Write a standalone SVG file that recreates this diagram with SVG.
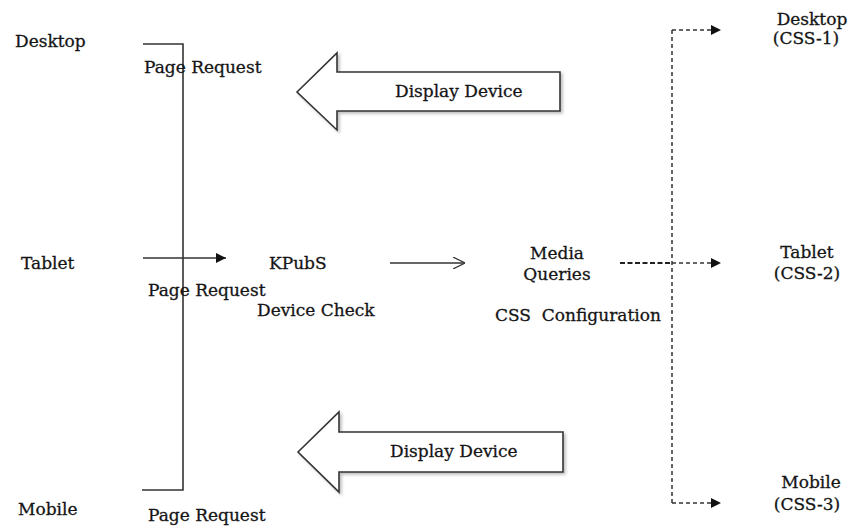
<svg xmlns="http://www.w3.org/2000/svg" width="848" height="526" viewBox="0 0 848 526">
  <style>
    .lbl { font-family: "DejaVu Serif", "Liberation Serif", serif; font-size: 17px; fill: #151515; stroke: #151515; stroke-width: 0.3; }
    .mid { text-anchor: middle; }
    .ln { fill: none; stroke: #333; stroke-width: 1.6; }
    .dash { fill: none; stroke: #333; stroke-width: 1.5; stroke-dasharray: 4 3; }
    .dashb { fill: none; stroke: #222; stroke-width: 2.2; stroke-dasharray: 5 2.5; }
    .big { fill: #fff; stroke: #333; stroke-width: 1.6; stroke-linejoin: miter; filter: url(#sh); }
  </style>
  <defs>
    <marker id="solid" viewBox="0 0 10 10" refX="10" refY="5" markerWidth="11" markerHeight="10" markerUnits="userSpaceOnUse" orient="auto">
      <path d="M0,0 L10,5 L0,10 z" fill="#111"/>
    </marker>
    <marker id="solidL" viewBox="0 0 10 10" refX="10" refY="5" markerWidth="13" markerHeight="10" markerUnits="userSpaceOnUse" orient="auto">
      <path d="M0,0 L10,5 L0,10 z" fill="#111"/>
    </marker>
    <marker id="open" viewBox="0 0 10 10" refX="10" refY="5" markerWidth="12" markerHeight="12" markerUnits="userSpaceOnUse" orient="auto">
      <path d="M0,0 L10,5 L0,10" fill="none" stroke="#333" stroke-width="1"/>
    </marker>
    <filter id="sh" x="-10%" y="-10%" width="130%" height="130%">
      <feDropShadow dx="2" dy="2" stdDeviation="1.5" flood-color="#000" flood-opacity="0.25"/>
    </filter>
  </defs>
  <rect width="848" height="526" fill="#fff"/>

  <!-- connectors -->
  <g id="connectors">
    <!-- request bracket -->
    <path class="ln" d="M143,44 H183 V490 H142"/>
    <!-- tablet request -->
    <line class="ln" x1="143" y1="258" x2="226" y2="258" marker-end="url(#solidL)"/>
    <!-- KPubS to media queries -->
    <line class="ln" x1="390" y1="263" x2="465" y2="263" marker-end="url(#open)" stroke-width="1.2"/>
    <!-- media queries out -->
    <line class="dashb" x1="620" y1="263" x2="671" y2="263"/>
    <line class="dash" x1="672" y1="263" x2="721" y2="263" marker-end="url(#solid)"/>
    <!-- distribution bus -->
    <line class="dash" x1="672" y1="30" x2="672" y2="503"/>
    <line class="dash" x1="672" y1="30" x2="721" y2="30" marker-end="url(#solid)"/>
    <line class="dash" x1="672" y1="503" x2="721" y2="503" marker-end="url(#solid)"/>
  </g>

  <!-- display device block arrows -->
  <g id="display-top">
    <path class="big" d="M297,92 L337,53 V72 H560 V111 H337 V130 Z"/>
    <text class="lbl" x="395" y="97">Display Device</text>
  </g>
  <g id="display-bottom">
    <path class="big" d="M298,452 L339,412 V432 H563 V472 H339 V492 Z"/>
    <text class="lbl" x="390" y="457">Display Device</text>
  </g>

  <!-- clients -->
  <g id="desktop">
    <text class="lbl" x="15" y="47">Desktop</text>
    <text class="lbl" x="144" y="73">Page Request</text>
  </g>
  <g id="tablet">
    <text class="lbl" x="21" y="269">Tablet</text>
    <text class="lbl" x="148" y="296">Page Request</text>
  </g>
  <g id="mobile">
    <text class="lbl" x="18" y="515">Mobile</text>
    <text class="lbl" x="148" y="521">Page Request</text>
  </g>

  <!-- server side -->
  <g id="kpubs">
    <text class="lbl" x="269" y="269">KPubS</text>
    <text class="lbl" x="257" y="316">Device Check</text>
  </g>
  <g id="media-queries">
    <text class="lbl mid" x="557" y="259">Media</text>
    <text class="lbl mid" x="557" y="280">Queries</text>
    <text class="lbl" x="495" y="321" xml:space="preserve" style="white-space:pre">CSS  Configuration</text>
  </g>

  <!-- style sheets -->
  <g id="css-1">
    <text class="lbl mid" x="812" y="25">Desktop</text>
    <text class="lbl mid" x="806" y="44">(CSS-1)</text>
  </g>
  <g id="css-2">
    <text class="lbl mid" x="807" y="258">Tablet</text>
    <text class="lbl mid" x="807" y="279">(CSS-2)</text>
  </g>
  <g id="css-3">
    <text class="lbl mid" x="811" y="488">Mobile</text>
    <text class="lbl mid" x="807" y="510">(CSS-3)</text>
  </g>
</svg>
